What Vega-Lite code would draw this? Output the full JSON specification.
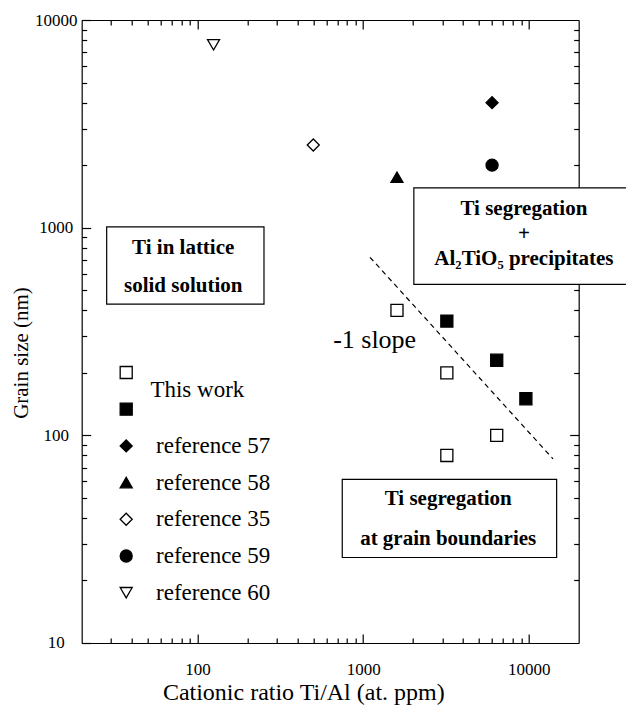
{
  "$schema": "https://vega.github.io/schema/vega-lite/v6.json",
  "width": 497,
  "height": 623,
  "autosize": {"type": "none"},
  "padding": {"left": 81.7, "top": 20, "right": 47, "bottom": 71},
  "background": "white",
  "config": {
    "view": {"stroke": null},
    "font": "Liberation Serif",
    "axis": {
      "domainColor": "black", "domainWidth": 1.2, "ticks": true, "tickColor": "black", "tickWidth": 1.2, "tickOpacity": 1,
      "labelFont": "Liberation Serif", "labelFontSize": 17, "labelColor": "black",
      "titleFont": "Liberation Serif", "titleFontWeight": "normal", "titleColor": "black",
      "grid": false, "labelOverlap": false, "labelFlush": false
    }
  },
  "resolve": {"axis": {"x": "independent", "y": "independent"}},
  "layer": [
    {
      "data": {"values": [{"ratio": 1100, "size": 720}, {"ratio": 14000, "size": 77}]},
      "mark": {"type": "line", "color": "black", "strokeDash": [5, 4], "strokeWidth": 1.2},
      "encoding": {
        "x": {"field": "ratio", "type": "quantitative",
          "scale": {"type": "log", "domain": [20, 20000]},
          "axis": {"orient": "top", "title": null, "labels": false, "ticks": false, "domain": true, "values": [100]}},
        "y": {"field": "size", "type": "quantitative",
          "scale": {"type": "log", "domain": [10, 10000]},
          "axis": {"orient": "right", "title": null, "labels": false, "ticks": false, "domain": true, "values": [100]}}
      }
    },
    {
      "data": {"values": [
        {"x1": 28.3, "x2": 252, "y1": 428.6, "y2": 1009},
        {"x1": 2023, "x2": 40000, "y1": 533, "y2": 1556},
        {"x1": 748, "x2": 14720, "y1": 25.8, "y2": 61.4}
      ]},
      "mark": {"type": "rect", "fill": "white", "stroke": "black", "strokeWidth": 1.2},
      "encoding": {
        "x": {"field": "x1", "type": "quantitative", "scale": {"type": "log", "domain": [20, 20000]},
          "axis": {"orient": "top", "title": null, "labels": false, "domain": false, "ticks": true, "tickSize": 5, "offset": -5,
            "values": [30,40,50,60,70,80,90,200,300,400,500,600,700,800,900,2000,3000,4000,5000,6000,7000,8000,9000]}},
        "x2": {"field": "x2"},
        "y": {"field": "y1", "type": "quantitative", "scale": {"type": "log", "domain": [10, 10000]},
          "axis": {"orient": "right", "title": null, "labels": false, "domain": false, "ticks": true, "tickSize": 5, "offset": -5,
            "values": [20,30,40,50,60,70,80,90,200,300,400,500,600,700,800,900,2000,3000,4000,5000,6000,7000,8000,9000]}},
        "y2": {"field": "y2"}
      }
    },
    {
      "data": {"values": [
        {"text": "Ti in lattice", "x": 82, "y": 743},
        {"text": "solid solution", "x": 82, "y": 488},
        {"text": "Ti segregation", "x": 9340, "y": 1151},
        {"text": "+", "x": 9340, "y": 877},
        {"text": "Al₂TiO₅ precipitates", "x": 9340, "y": 660},
        {"text": "Ti segregation", "x": 3260, "y": 46},
        {"text": "at grain boundaries", "x": 3260, "y": 29.6}
      ]},
      "mark": {"type": "text", "font": "Liberation Serif", "fontWeight": "bold", "fontSize": 21, "align": "center", "baseline": "alphabetic", "color": "black"},
      "encoding": {
        "x": {"field": "x", "type": "quantitative", "scale": {"type": "log", "domain": [20, 20000]},
          "axis": {"orient": "top", "title": null, "labels": false, "domain": false, "ticks": true, "tickSize": 9, "offset": -9, "values": [100, 1000, 10000]}},
        "y": {"field": "y", "type": "quantitative", "scale": {"type": "log", "domain": [10, 10000]},
          "axis": {"orient": "right", "title": null, "labels": false, "domain": false, "ticks": true, "tickSize": 9, "offset": -9, "values": [100, 1000]}},
        "text": {"field": "text"}
      }
    },
    {
      "data": {"values": [{"text": "-1 slope", "x": 659, "y": 262}]},
      "mark": {"type": "text", "font": "Liberation Serif", "fontSize": 26, "align": "left", "baseline": "alphabetic", "color": "black"},
      "encoding": {
        "x": {"field": "x", "type": "quantitative", "scale": {"type": "log", "domain": [20, 20000]},
          "axis": {"orient": "bottom", "title": null, "labels": false, "ticks": false, "domain": true, "values": [100]}},
        "y": {"field": "y", "type": "quantitative", "scale": {"type": "log", "domain": [10, 10000]},
          "axis": {"orient": "left", "title": null, "labels": false, "ticks": false, "domain": true, "values": [100]}},
        "text": {"field": "text"}
      }
    },
    {
      "data": {"values": [{"text": "This work", "x": 52, "y": 166}]},
      "mark": {"type": "text", "font": "Liberation Serif", "fontSize": 23, "align": "left", "baseline": "middle", "color": "black"},
      "encoding": {
        "x": {"field": "x", "type": "quantitative", "scale": {"type": "log", "domain": [20, 20000]},
          "axis": {"orient": "bottom", "title": null, "labels": false, "domain": false, "ticks": true, "tickSize": 5, "offset": -5,
            "values": [30,40,50,60,70,80,90,200,300,400,500,600,700,800,900,2000,3000,4000,5000,6000,7000,8000,9000]}},
        "y": {"field": "y", "type": "quantitative", "scale": {"type": "log", "domain": [10, 10000]},
          "axis": {"orient": "left", "title": null, "labels": false, "domain": false, "ticks": true, "tickSize": 5, "offset": -5,
            "values": [20,30,40,50,60,70,80,90,200,300,400,500,600,700,800,900,2000,3000,4000,5000,6000,7000,8000,9000]}},
        "text": {"field": "text"}
      }
    },
    {
      "data": {"values": [
        {"ratio": 1600, "size": 400, "series": "tw_open"},
        {"ratio": 3200, "size": 200, "series": "tw_open"},
        {"ratio": 6400, "size": 100, "series": "tw_open"},
        {"ratio": 3200, "size": 80, "series": "tw_open"},
        {"ratio": 3200, "size": 355, "series": "tw_filled"},
        {"ratio": 6400, "size": 230, "series": "tw_filled"},
        {"ratio": 9600, "size": 150, "series": "tw_filled"},
        {"ratio": 6000, "size": 4000, "series": "reference 57"},
        {"ratio": 1600, "size": 1750, "series": "reference 58"},
        {"ratio": 500, "size": 2500, "series": "reference 35"},
        {"ratio": 6000, "size": 2000, "series": "reference 59"},
        {"ratio": 125, "size": 7600, "series": "reference 60"}
      ]},
      "mark": {"type": "point", "filled": true, "stroke": "black", "strokeWidth": 1.3, "opacity": 1},
      "encoding": {
        "x": {"field": "ratio", "type": "quantitative",
          "scale": {"type": "log", "domain": [20, 20000]},
          "axis": {"orient": "bottom", "title": "Cationic ratio Ti/Al (at. ppm)", "titleFontSize": 24,
            "titleX": 221.6, "titleY": 59, "titleBaseline": "middle", "titleAlign": "center",
            "values": [100, 1000, 10000], "format": "d", "domain": false, "ticks": true,
            "labelBaseline": "middle", "labelPadding": 27, "tickSize": 9, "offset": -9}},
        "y": {"field": "size", "type": "quantitative",
          "scale": {"type": "log", "domain": [10, 10000]},
          "axis": {"orient": "left", "title": "Grain size (nm)", "titleFontSize": 21,
            "titleX": -69, "titleY": 332.5, "titleBaseline": "middle", "titleAlign": "center", "titleAngle": -90,
            "values": [10, 100, 1000, 10000], "format": "d", "domain": false, "ticks": true,
            "labelAlign": "center", "labelBaseline": "middle", "labelPadding": 26, "tickSize": 9, "offset": -9}},
        "shape": {"field": "series", "type": "nominal",
          "scale": {"domain": ["tw_open", "tw_filled", "reference 57", "reference 58", "reference 35", "reference 59", "reference 60"],
                    "range": ["square", "square", "diamond", "triangle-up", "diamond", "circle", "triangle-down"]},
          "legend": {"title": null, "orient": "none", "legendX": 33, "legendY": 341,
            "labelFont": "Liberation Serif", "labelFontSize": 23, "labelColor": "black", "labelOffset": 18.4,
            "rowPadding": 12.7, "symbolStrokeColor": "black", "symbolStrokeWidth": 1.3,
            "labelExpr": "(datum.value == 'tw_open' || datum.value == 'tw_filled') ? '' : datum.label"}},
        "fill": {"field": "series", "type": "nominal",
          "scale": {"domain": ["tw_open", "tw_filled", "reference 57", "reference 58", "reference 35", "reference 59", "reference 60"],
                    "range": ["white", "black", "black", "black", "white", "black", "white"]}},
        "size": {"field": "series", "type": "ordinal",
          "scale": {"domain": ["tw_open", "tw_filled", "reference 57", "reference 58", "reference 35", "reference 59", "reference 60"],
                    "range": [145, 145, 250, 220, 290, 165, 230]}}
      }
    }
  ]
}
